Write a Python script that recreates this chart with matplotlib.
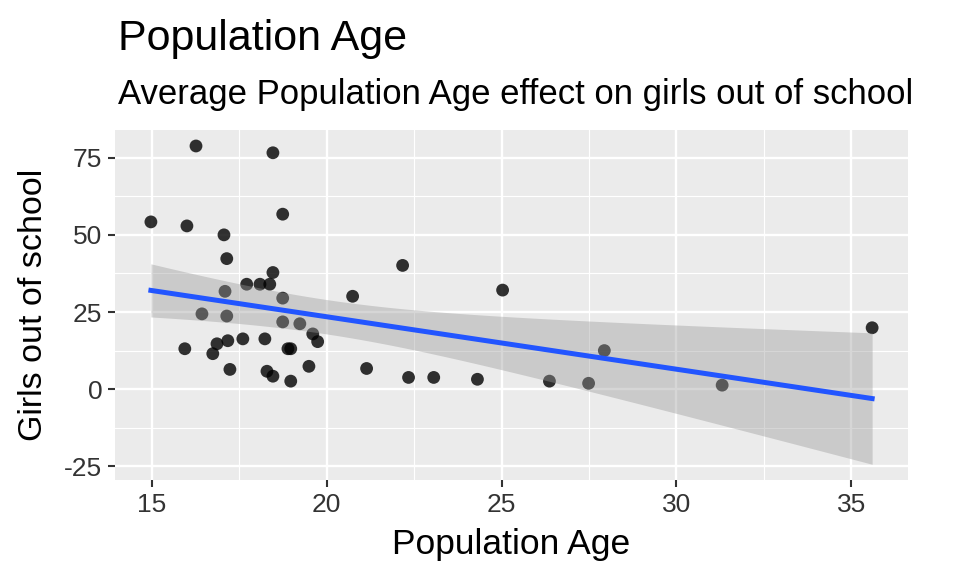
import matplotlib
matplotlib.use('Agg')
import matplotlib.pyplot as plt
import numpy as np

plt.rcParams['font.family'] = ['Liberation Sans', 'DejaVu Sans']
plt.rcParams['axes.unicode_minus'] = False

# Data
pop_age = [14.97, 16.0, 16.26, 18.46, 17.06, 18.74, 17.14, 18.46, 17.71, 18.09,
           18.37, 17.09, 18.74, 16.43, 17.14, 18.74, 19.23, 19.6, 19.74, 15.94,
           16.86, 16.74, 17.17, 17.6, 18.23, 18.89, 18.97, 17.23, 18.29, 18.46,
           18.97, 19.49, 20.74, 21.14, 22.17, 22.34, 23.06, 24.31, 25.03, 26.37,
           27.49, 27.94, 31.31, 35.6]
girls_out = [54.2, 52.9, 78.8, 76.6, 50.0, 56.7, 42.3, 37.8, 34.0, 34.0,
             34.0, 31.7, 29.5, 24.4, 23.7, 21.8, 21.2, 17.9, 15.4, 13.1,
             14.7, 11.5, 15.7, 16.3, 16.3, 13.1, 13.1, 6.4, 5.8, 4.2,
             2.6, 7.4, 30.1, 6.7, 40.1, 3.8, 3.8, 3.2, 32.1, 2.6,
             1.9, 12.5, 1.3, 19.9]

x_ticks = [15, 20, 25, 30, 35]
y_ticks = [-25, 0, 25, 50, 75]

x = np.array(pop_age)
y = np.array(girls_out)

# linear fit with 95% confidence band (like geom_smooth(method='lm'))
n = len(x)
slope, intercept = np.polyfit(x, y, 1)
xs = np.linspace(x.min(), x.max(), 80)
ys = intercept + slope * xs
resid = y - (intercept + slope * x)
s = np.sqrt(np.sum(resid ** 2) / (n - 2))
t_val = 2.017
se = s * np.sqrt(1 / n + (xs - x.mean()) ** 2 / np.sum((x - x.mean()) ** 2))
lo, hi = ys - t_val * se, ys + t_val * se

fig = plt.figure(figsize=(9.57, 5.73), dpi=100)
ax = fig.add_axes([0.120, 0.162, 0.829, 0.611])
ax.set_facecolor('#EBEBEB')
for sp in ax.spines.values():
    sp.set_visible(False)

ax.scatter(x, y, s=85, color='black', alpha=0.8, edgecolors='none', zorder=3)
ax.fill_between(xs, lo, hi, color='#999999', alpha=0.4, linewidth=0, zorder=4)
ax.plot(xs, ys, color='#2255FF', linewidth=3.6, zorder=5)

xr = x.max() - x.min()
ax.set_xlim(x.min() - 0.05 * xr, x.max() + 0.05 * xr)
ymin, ymax = min(y.min(), lo.min()), max(y.max(), hi.max())
yr = ymax - ymin
ax.set_ylim(ymin - 0.05 * yr, ymax + 0.05 * yr)

ax.set_xticks(x_ticks)
ax.set_yticks(y_ticks)
ax.set_yticklabels([str(v) for v in y_ticks])
ax.set_xticks([17.5, 22.5, 27.5, 32.5], minor=True)
ax.set_yticks([-12.5, 12.5, 37.5, 62.5], minor=True)
ax.grid(True, which='major', color='white', linewidth=1.7, zorder=0)
ax.grid(True, which='minor', color='white', linewidth=0.8, zorder=0)
ax.set_axisbelow(True)
ax.tick_params(which='major', length=5, width=1.5, color='#333333',
               labelsize=19, labelcolor='#333333', pad=4)
ax.tick_params(which='minor', length=0)

ax.set_xlabel('Population Age', fontsize=25.5, labelpad=8)
ax.set_ylabel('Girls out of school', fontsize=24.5, labelpad=11)

fig.text(0.123, 0.912, 'Population Age', fontsize=31, ha='left', va='baseline')
fig.text(0.123, 0.818, 'Average Population Age effect on girls out of school',
         fontsize=25, ha='left', va='baseline')

fig.savefig('out.png', dpi=100, facecolor='white')
